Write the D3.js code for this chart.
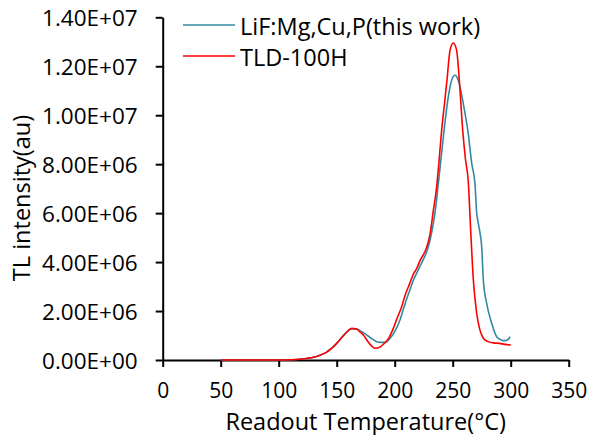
<!DOCTYPE html>
<html>
<head>
<meta charset="utf-8">
<script src="https://cdn.jsdelivr.net/npm/d3@7"></script>
<style>
  html, body { margin: 0; padding: 0; background: #fff; }
  svg { display: block; font-family: "Open Sans", "Noto Sans", sans-serif; }
</style>
</head>
<body>
<svg id="chart" width="598" height="435"></svg>
<script>
// Glow curves: readout temperature (°C) vs TL intensity (au)
const tempLiF = [50,60,70,80,90,100,110,115,120,125,130,135,141,145,150,155,160,163,167,170,173,176,180,184,188,192,196,200,204,207,210,213,216,220,223,227,230,232,235,237.6,241.9,246.2,249.1,252,254.8,259.1,263.4,266.4,269.2,270.7,272,273.5,275,276.4,279.3,283.6,287.9,290.5,293.6,296,297.9,299.4];
const valLiF = [0,0,0,0,0,0,0.01e6,0.02e6,0.04e6,0.07e6,0.11e6,0.18e6,0.31e6,0.45e6,0.68e6,0.96e6,1.2e6,1.27e6,1.27e6,1.2e6,1.12e6,1.02e6,0.88e6,0.76e6,0.72e6,0.72e6,0.89e6,1.16e6,1.56e6,2.0e6,2.45e6,2.85e6,3.25e6,3.65e6,3.95e6,4.35e6,4.8e6,5.25e6,6.1e6,7.2e6,9.1e6,10.75e6,11.43e6,11.63e6,11.43e6,10.48e6,9.25e6,8.03e6,7.2e6,6.0e6,5.6e6,5.2e6,4.62e6,3.27e6,2.31e6,1.5e6,0.95e6,0.85e6,0.79e6,0.8e6,0.84e6,0.95e6];

const tempTLD = [50,60,70,80,90,100,110,115,120,125,130,135,141,145,150,155,160,163,167,170,173,177,180,183,187,191,195,198,202,206,209,213,216,219,222,226,229,231,233,236,238,240.5,243,245,247.7,250.5,253.4,255.7,258.6,261,263.4,265.5,267.8,270.7,273.5,276.4,280,285,290,295,300];
const valTLD = [0,0,0,0,0,0,0.01e6,0.02e6,0.04e6,0.07e6,0.11e6,0.18e6,0.31e6,0.45e6,0.68e6,0.95e6,1.2e6,1.29e6,1.27e6,1.15e6,1.02e6,0.75e6,0.58e6,0.48e6,0.52e6,0.68e6,0.9e6,1.2e6,1.7e6,2.18e6,2.65e6,3.13e6,3.5e6,3.74e6,4.08e6,4.42e6,4.83e6,5.3e6,6.0e6,7.0e6,8.0e6,9.4e6,10.5e6,11.4e6,12.65e6,12.95e6,12.65e6,11.43e6,9.4e6,8.2e6,7.3e6,5.3e6,3.27e6,1.9e6,1.22e6,0.89e6,0.76e6,0.7e6,0.68e6,0.64e6,0.61e6];

const seriesNames = ["LiF:Mg,Cu,P(this work)", "TLD-100H"];
const seriesColors = ["#3489a2", "#ff0000"];

const xTickValues = [0,50,100,150,200,250,300,350];
const yTickValues = [0,2e6,4e6,6e6,8e6,10e6,12e6,14e6];
const yTickLabels = ["0.00E+00","2.00E+06","4.00E+06","6.00E+06","8.00E+06","1.00E+07","1.20E+07","1.40E+07"];

const xTitle = "Readout Temperature(°C)";
const yTitle = "TL intensity(au)";

const svg = d3.select("#chart");
const plot = { left: 162.7, right: 568.7, top: 17.3, bottom: 360 };

const x = d3.scaleLinear().domain([0, 350]).range([plot.left, plot.right]);
const y = d3.scaleLinear().domain([0, 14e6]).range([plot.bottom, plot.top]);

// Axes
const xAxis = d3.axisBottom(x).tickValues(xTickValues).tickSize(7).tickSizeOuter(0).tickPadding(16.5);
const yAxis = d3.axisLeft(y).tickValues(yTickValues).tickSize(7).tickSizeOuter(0).tickPadding(18)
  .tickFormat((d, i) => yTickLabels[i]);

const gx = svg.append("g").attr("transform", `translate(0,${plot.bottom})`).call(xAxis);
const gy = svg.append("g").attr("transform", `translate(${plot.left},0)`).call(yAxis);

[gx, gy].forEach(g => {
  g.select(".domain").attr("stroke", "#000").attr("stroke-width", 2);
  g.selectAll(".tick line").attr("stroke", "#000").attr("stroke-width", 2);
  g.selectAll(".tick text").attr("fill", "#000")
    .style("font-family", "'Open Sans', sans-serif");
});
gx.selectAll(".tick text").attr("dy", "0.71em").style("font-size", "21px");
gy.selectAll(".tick text").attr("dy", "0.36em").style("font-size", "22.5px");

// Axis titles
svg.append("text")
  .attr("x", (plot.left + plot.right) / 2)
  .attr("y", 429.5)
  .attr("text-anchor", "middle")
  .style("font-size", "23.5px")
  .attr("fill", "#000")
  .text(xTitle);

svg.append("text")
  .attr("transform", `translate(30,${198}) rotate(-90)`)
  .attr("text-anchor", "middle")
  .style("font-size", "23.5px")
  .attr("fill", "#000")
  .text(yTitle);

// Curves
const line = d3.line()
  .x(d => x(d[0]))
  .y(d => y(d[1]))
  .curve(d3.curveMonotoneX);

const series = [
  d3.zip(tempLiF, valLiF),
  d3.zip(tempTLD, valTLD)
];

series.forEach((pts, i) => {
  svg.append("path")
    .datum(pts)
    .attr("fill", "none")
    .attr("stroke", seriesColors[i])
    .attr("stroke-width", 1.6)
    .attr("stroke-linejoin", "round")
    .attr("d", line);
});

// Legend
const legend = svg.append("g");
seriesNames.forEach((name, i) => {
  const ly = 25 + i * 31;
  legend.append("line")
    .attr("x1", 183).attr("x2", 235)
    .attr("y1", ly).attr("y2", ly)
    .attr("stroke", seriesColors[i])
    .attr("stroke-width", 1.6);
  legend.append("text")
    .attr("x", 240)
    .attr("y", ly + 10)
    .style("font-size", "23.5px")
    .attr("fill", "#000")
    .text(name);
});
</script>
</body>
</html>
